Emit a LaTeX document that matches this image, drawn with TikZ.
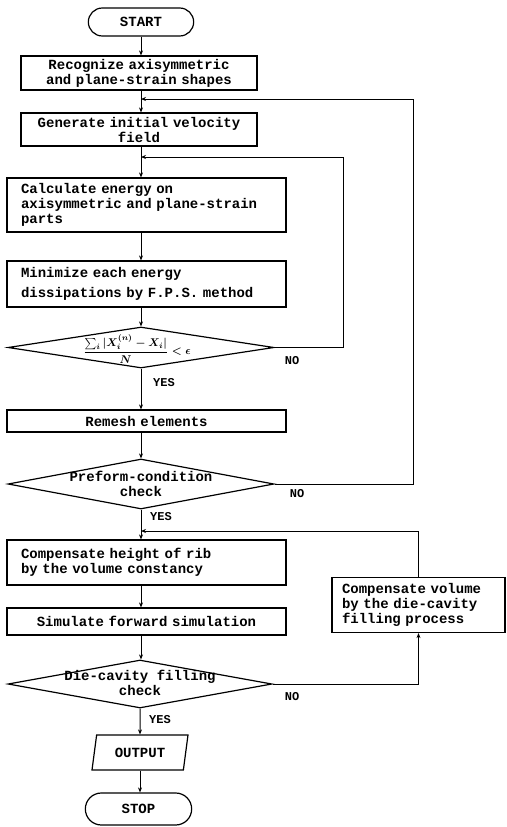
\documentclass[tikz,border=0pt]{standalone}
\usepackage{fontspec}
\setmainfont{Liberation Mono}
\usepackage{tikz}
\usetikzlibrary{arrows.meta,calc,positioning,shapes.geometric,shapes.misc}

\newcommand{\boxfont}{\fontsize{14}{15}\selectfont\bfseries}
\newcommand{\tagfont}{\fontsize{12}{13}\selectfont\bfseries}
\newcommand{\convcrit}{$\displaystyle\frac{\sum\nolimits_i\vert X_i^{(n)}-X_i\vert}{N}<\epsilon$}

\begin{document}
\begin{tikzpicture}[
  x=1pt, y=-1pt,
  box/.style={draw,line width=1.2pt,font=\boxfont,inner ysep=2pt},
  midbox/.style={box,text width=216pt,inner xsep=10pt,align=center},
  widebox/.style={box,text width=251pt,inner xsep=14pt,align=left},
  terminal/.style={rounded rectangle,draw,line width=1.2pt,font=\boxfont,
    minimum width=112pt,minimum height=28pt},
  decision/.style={diamond,draw,line width=1.2pt,inner sep=0pt,minimum width=266pt},
  io/.style={trapezium,trapezium left angle=74,trapezium right angle=106,
    trapezium stretches body,draw,line width=1.2pt,font=\boxfont,
    minimum width=96pt,minimum height=35pt},
  flow/.style={-{Stealth[length=5pt,width=4pt]},line width=1pt},
  tag/.style={font=\tagfont,inner sep=0pt}
]
  \useasboundingbox (0,0) rectangle (506,827);
  \coordinate (axis) at (141,0);

  % main column
  \node[terminal] (start) at (141,22) {START};
  \node[midbox,minimum height=34pt] (recog) at (139,73)
    {Recognize axisymmetric\\and plane-strain shapes};
  \node[midbox,minimum height=33pt] (gen) at (139,129.5)
    {Generate initial velocity\\field};
  \node[widebox,minimum height=54pt] (calc) at (146.5,205)
    {Calculate energy on\\axisymmetric and plane-strain\\parts};
  \node[widebox,minimum height=46pt] (mini) at (146.5,284)
    {Minimize each energy\\[5pt]dissipations by F.P.S. method};
  \node[decision,minimum height=41pt] (conv) at (141,347.5) {};
  \node[inner sep=0pt,font=\boldmath,scale=1.12] (convtxt) at (137,349) {\convcrit};
  \node[widebox,align=center,minimum height=22pt] (remesh) at (146.5,421)
    {Remesh elements};
  \node[decision,minimum height=50pt] (pchk) at (141,484) {};
  \node[font=\boxfont,align=center,inner sep=0pt] (pchktxt) at (141,484)
    {Preform-condition\\check};
  \node[widebox,minimum height=45pt] (comph) at (146.5,562.5)
    {Compensate height of rib\\by the volume constancy};
  \node[widebox,align=center,minimum height=27pt] (sim) at (146.5,621.5)
    {Simulate forward simulation};
  \node[decision,minimum height=48pt,minimum width=264pt] (dchk) at (140,684) {};
  \node[font=\boxfont,align=center,inner sep=0pt] (dchktxt) at (140,683)
    {Die-cavity filling\\check};
  \node[io] (out) at (140,752.5) {OUTPUT};
  \node[terminal,minimum height=32pt,minimum width=113pt] (stop) at (138.5,809) {STOP};

  % side box
  \node[box,font=\fontsize{14}{15}\selectfont\bfseries,text width=153pt,
    inner xsep=10pt,align=left,minimum height=55pt] (compv) at (418.5,605)
    {Compensate volume\\by the die-cavity\\filling process};

  % branch labels
  \node[tag] (no1) at (292,361) {NO};
  \node[tag] (yes1) at (164,383) {YES};
  \node[tag] (no2) at (297,494) {NO};
  \node[tag] (yes2) at (161,517) {YES};
  \node[tag] (no3) at (292,697) {NO};
  \node[tag] (yes3) at (160,720) {YES};

  % junctions and turning points
  \coordinate (j1) at (141,99);
  \coordinate (j2) at (141,157);
  \coordinate (j3) at (141,531);
  \coordinate (r1) at (413,99);
  \coordinate (r2) at (343,157);

  % main flow
  \draw[flow] (start.south) -- (recog.north -| axis);
  \draw[flow] (recog.south -| axis) -- (gen.north -| axis);
  \draw[flow] (gen.south -| axis) -- (calc.north -| axis);
  \draw[flow] (calc.south -| axis) -- (mini.north -| axis);
  \draw[flow] (mini.south -| axis) -- (conv.north);
  \draw[flow] (conv.south) -- (remesh.north -| axis);
  \draw[flow] (remesh.south -| axis) -- (pchk.north);
  \draw[flow] (pchk.south) -- (comph.north -| axis);
  \draw[flow] (comph.south -| axis) -- (sim.north -| axis);
  \draw[flow] (sim.south -| axis) -- (dchk.north -| axis);
  \draw[flow] (dchk.south) -- (out.north);
  \draw[flow] (out.south) -- (stop.north -| out.south);

  % loops back
  \draw[flow] (conv.east) -| (r2) -- (j2);
  \draw[flow] (pchk.east) -| (r1) -- (j1);
  \draw[flow] (dchk.east) -| (compv.south);
  \draw[flow] (compv.north) |- (j3);
\end{tikzpicture}
\end{document}
